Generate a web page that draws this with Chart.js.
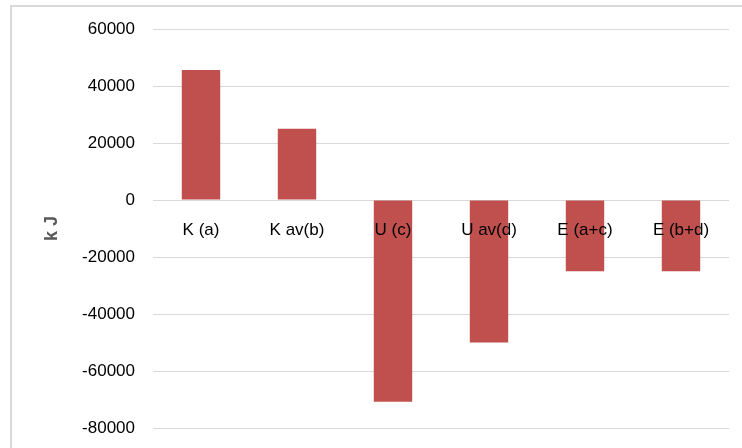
<!DOCTYPE html>
<html>
<head>
<meta charset="utf-8">
<script src="https://cdn.jsdelivr.net/npm/chart.js@4"></script>
<style>
  html, body { margin: 0; padding: 0; background: #fff; }
  #wrap { position: relative; width: 742px; height: 448px; overflow: hidden; }
  #frame { position: absolute; left: 10px; top: 5px; width: 800px; height: 500px; border: 2px solid #d9d9d9; }
  #c { position: absolute; left: 0; top: 0; width: 742px; height: 448px; }
</style>
</head>
<body>
<div id="wrap">
  <div id="frame"></div>
  <canvas id="c" width="742" height="448"></canvas>
</div>
<script>
  const categories = ['K (a)', 'K av(b)', 'U (c)', 'U av(d)', 'E (a+c)', 'E (b+d)'];
  const energy = [45600, 25000, -70800, -50000, -25000, -25000];
  const yMin = -80000;
  const yMax = 60000;
  const yStep = 20000;

  const tickFont = { family: 'Liberation Sans', size: 17 };
  const plotBottomGap = 20;

  // stretch plot area down to leave only a small gap under it
  const stretchPlot = {
    id: 'stretchPlot',
    afterLayout(chart) {
      const y = chart.scales.y;
      const bottom = chart.height - plotBottomGap;
      chart.chartArea.bottom = bottom;
      chart.chartArea.height = bottom - chart.chartArea.top;
      y.bottom = bottom;
      y.height = bottom - y.top;
      y.configure();
    }
  };

  // category labels sit on the zero line, painted over the bars (as in Excel)
  const zeroLineLabels = {
    id: 'zeroLineLabels',
    afterDatasetsDraw(chart) {
      const x = chart.scales.x, y = chart.scales.y;
      const ctx = chart.ctx;
      const y0 = y.getPixelForValue(0);
      ctx.save();
      ctx.font = tickFont.size + 'px ' + tickFont.family;
      ctx.fillStyle = '#000';
      ctx.textAlign = 'center';
      ctx.textBaseline = 'middle';
      categories.forEach((c, i) => ctx.fillText(c, x.getPixelForTick(i), y0 + 30));
      ctx.restore();
    }
  };

  new Chart(document.getElementById('c'), {
    type: 'bar',
    data: {
      labels: categories,
      datasets: [{
        data: energy,
        backgroundColor: '#C0504D',
        borderWidth: 0,
        barPercentage: 0.4,
        categoryPercentage: 1
      }]
    },
    options: {
      responsive: false,
      maintainAspectRatio: false,
      animation: false,
      layout: { padding: { top: 29, bottom: plotBottomGap, right: 13, left: 0 } },
      plugins: { legend: { display: false }, tooltip: { enabled: false } },
      scales: {
        x: { display: false },
        y: {
          min: yMin,
          max: yMax,
          afterFit: s => { s.width = 153; },
          grid: { color: '#d9d9d9', lineWidth: 1, drawTicks: false },
          border: { display: false },
          ticks: { stepSize: yStep, color: '#000', font: tickFont, padding: 18, callback: v => String(v) },
          title: {
            display: true,
            text: 'k J',
            color: '#595959',
            font: { family: 'Liberation Sans', size: 18, weight: 'bold' },
            padding: { top: 41, bottom: 0 }
          }
        }
      }
    },
    plugins: [stretchPlot, zeroLineLabels]
  });
</script>
</body>
</html>
